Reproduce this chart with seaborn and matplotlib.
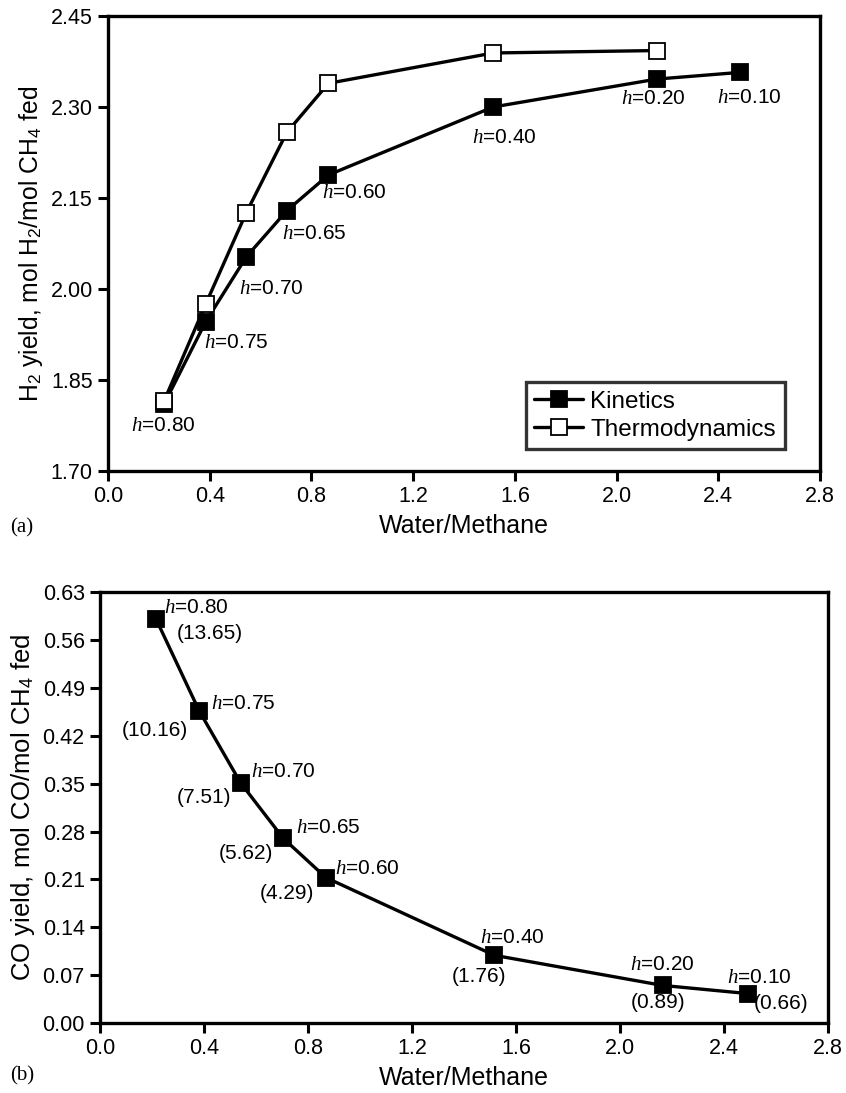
import matplotlib
matplotlib.use("Agg")
import matplotlib.pyplot as plt
import seaborn as sns
import pandas as pd

# water/methane ratio for each h value
h_labels = ["0.80", "0.75", "0.70", "0.65", "0.60", "0.40", "0.20", "0.10"]
ratio_kin = [0.22, 0.384, 0.544, 0.703, 0.867, 1.515, 2.159, 2.485]
h2_kin = [1.81, 1.946, 2.053, 2.129, 2.188, 2.300, 2.346, 2.357]

ratio_thermo = [0.22, 0.384, 0.544, 0.703, 0.867, 1.515, 2.159]
h2_thermo = [1.815, 1.975, 2.126, 2.258, 2.339, 2.389, 2.393]

ratio_co = [0.215, 0.382, 0.541, 0.705, 0.869, 1.517, 2.164, 2.494]
co_yield = [0.591, 0.456, 0.351, 0.270, 0.2126, 0.099, 0.055, 0.043]
co_pct = ["(13.65)", "(10.16)", "(7.51)", "(5.62)", "(4.29)", "(1.76)", "(0.89)", "(0.66)"]

sns.set_theme(style="ticks")
plt.rcParams["font.family"] = ["Liberation Sans", "DejaVu Sans"]
plt.rcParams["mathtext.fontset"] = "custom"
plt.rcParams["mathtext.rm"] = "Liberation Sans"
plt.rcParams["mathtext.it"] = "Liberation Serif:italic"
for k in ["text.color", "axes.labelcolor", "xtick.color", "ytick.color"]:
    plt.rcParams[k] = "black"

kin = pd.DataFrame({"ratio": ratio_kin, "h2": h2_kin})
thermo = pd.DataFrame({"ratio": ratio_thermo, "h2": h2_thermo})
co = pd.DataFrame({"ratio": ratio_co, "co": co_yield})

fig = plt.figure(figsize=(8.46, 10.93), dpi=100)
ax1 = fig.add_axes([0.1277, 0.5691, 0.8416, 0.4163])
ax2 = fig.add_axes([0.1182, 0.0640, 0.8605, 0.3943])

line_kw = dict(color="black", linewidth=2.4, marker="s", markersize=11,
               markeredgecolor="black", markeredgewidth=1.3)

sns.lineplot(data=kin, x="ratio", y="h2", ax=ax1, label="Kinetics",
             markerfacecolor="black", **line_kw)
sns.lineplot(data=thermo, x="ratio", y="h2", ax=ax1, label="Thermodynamics",
             markerfacecolor="white", **line_kw)
sns.lineplot(data=co, x="ratio", y="co", ax=ax2, legend=False,
             markerfacecolor="black", **line_kw)

# annotation offsets in pixels (dx, dy) relative to each point
top_off = [(-1, -21), (31, -21), (25, -32), (27, -23), (26, -18), (11, -31), (-4, -19), (9, -25)]
for x, y, h, (dx, dy) in zip(ratio_kin, h2_kin, h_labels, top_off):
    ax1.annotate(f"$h$={h}", (x, y), xytext=(dx, dy),
                 textcoords="offset pixels", ha="center", va="center", fontsize=15)

h_off = [(40, 11), (44, 8), (43, 11), (45, 11), (41, 9), (18, 18), (0, 21), (11, 16)]
p_off = [(54, -15), (-44, -19), (-37, -15), (-37, -15), (-39, -16), (-15, -21), (-5, -17), (33, -10)]
for x, y, h, p, (hx, hy), (px, py) in zip(ratio_co, co_yield, h_labels, co_pct, h_off, p_off):
    ax2.annotate(f"$h$={h}", (x, y), xytext=(hx, hy), textcoords="offset pixels",
                 ha="center", va="center", fontsize=15)
    ax2.annotate(p, (x, y), xytext=(px, py), textcoords="offset pixels",
                 ha="center", va="center", fontsize=15)

xticks = [0.0, 0.4, 0.8, 1.2, 1.6, 2.0, 2.4, 2.8]
h2_ticks = [1.70, 1.85, 2.00, 2.15, 2.30, 2.45]
co_ticks = [0.00, 0.07, 0.14, 0.21, 0.28, 0.35, 0.42, 0.49, 0.56, 0.63]

ax1.set_xlim(0, 2.8)
ax1.set_ylim(1.70, 2.45)
ax1.set_xticks(xticks)
ax1.set_yticks(h2_ticks)
ax1.set_yticklabels([f"{v:.2f}" for v in h2_ticks])
ax1.set_xlabel("Water/Methane", fontsize=18)
ax1.set_ylabel("H$_\\mathregular{2}$ yield, mol H$_\\mathregular{2}$/mol CH$_\\mathregular{4}$ fed",
               fontsize=17.8)

ax2.set_xlim(0, 2.8)
ax2.set_ylim(0, 0.63)
ax2.set_xticks(xticks)
ax2.set_yticks(co_ticks)
ax2.set_yticklabels([f"{v:.2f}" for v in co_ticks])
ax2.set_xlabel("Water/Methane", fontsize=18)
ax2.set_ylabel("CO yield, mol CO/mol CH$_\\mathregular{4}$ fed", fontsize=18.5)

for ax in (ax1, ax2):
    for s in ax.spines.values():
        s.set_visible(True)
        s.set_linewidth(2.4)
        s.set_color("black")
    ax.tick_params(axis="both", direction="out", length=7, width=2.2,
                   labelsize=15.5, colors="black", pad=4)
    ax.xaxis.labelpad = 5

leg = ax1.legend(loc="lower left", bbox_to_anchor=(0.587, 0.048), borderaxespad=0,
                 fontsize=17.5, frameon=True, fancybox=False, handlelength=2.0,
                 handletextpad=0.3, borderpad=0.35, labelspacing=0.25)
leg.get_frame().set_edgecolor("black")
leg.get_frame().set_linewidth(2.4)

fig.text(0.012, 0.517, "(a)", family="Liberation Serif", fontsize=15, va="center")
fig.text(0.012, 0.016, "(b)", family="Liberation Serif", fontsize=15, va="center")

fig.savefig("out.png", dpi=100)
